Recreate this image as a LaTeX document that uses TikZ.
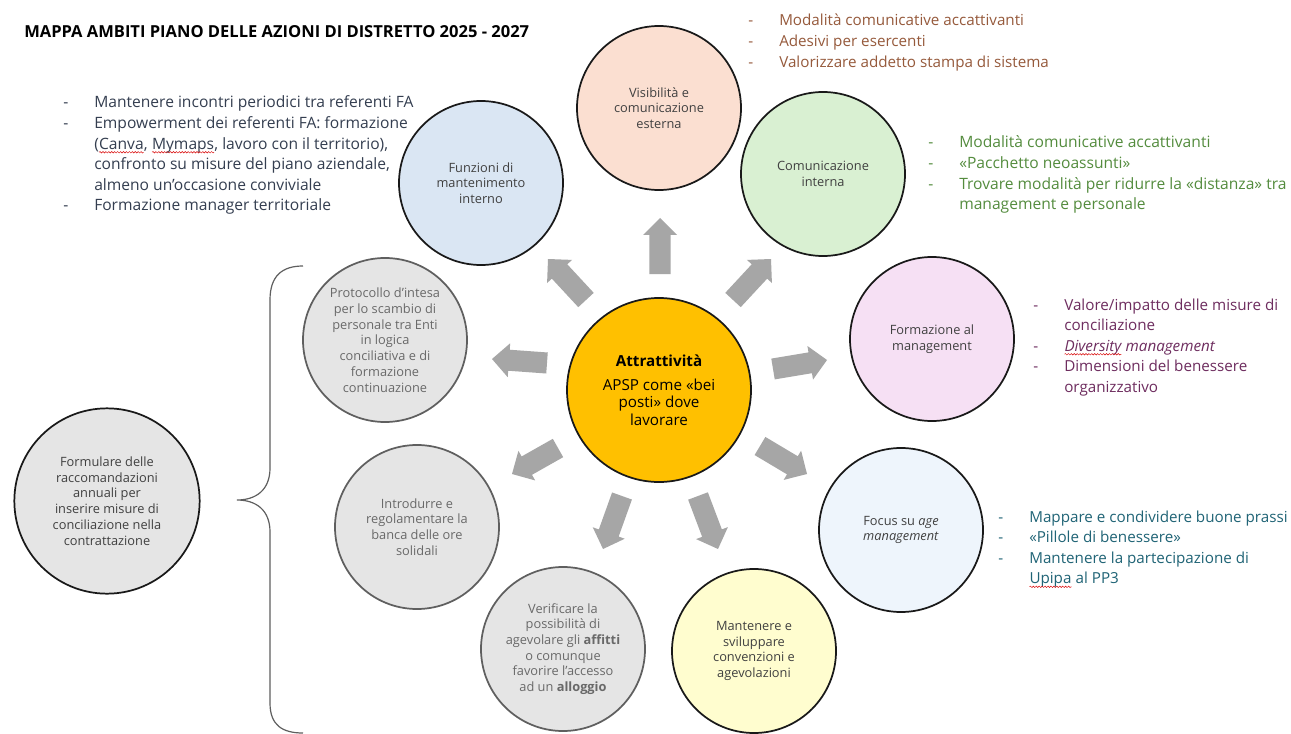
\documentclass[tikz,border=0pt]{standalone}
\usepackage{fontspec}
\setmainfont{Open Sans}
\usetikzlibrary{calc,decorations.pathmorphing}

% palette
\definecolor{ink}{RGB}{25,25,25}
\definecolor{circtext}{RGB}{64,64,64}
\definecolor{graytext}{RGB}{105,105,105}
\definecolor{graydraw}{RGB}{95,95,95}
\definecolor{softgray}{RGB}{229,229,229}
\definecolor{arrowgray}{RGB}{166,166,166}
\definecolor{amber}{RGB}{255,192,0}
\definecolor{peach}{RGB}{251,223,209}
\definecolor{skyfill}{RGB}{218,230,243}
\definecolor{mint}{RGB}{217,240,210}
\definecolor{lilac}{RGB}{246,224,244}
\definecolor{icefill}{RGB}{238,245,252}
\definecolor{cream}{RGB}{255,253,207}
\definecolor{brownc}{RGB}{150,90,60}
\definecolor{slatec}{RGB}{52,62,80}
\definecolor{greenc}{RGB}{84,140,62}
\definecolor{plumc}{RGB}{110,45,95}
\definecolor{tealc}{RGB}{32,100,118}

\newcommand\circfont{\fontsize{9.6}{11.8}\selectfont}
\newcommand\listfont{\fontsize{11.4}{15.4}\selectfont}
\newcommand\widelistfont{\fontsize{11.7}{15.4}\selectfont}
\newcommand\corefont{\fontsize{11.4}{13.2}\selectfont}
\newcommand\titlefont{\fontsize{12.4}{14}\selectfont\bfseries}

% red spell-check wave under a word
\newcommand\squig[1]{\tikz[baseline=(sqw.base)]{\node[inner sep=0pt,outer sep=0pt,anchor=base](sqw){#1};\draw[red!85!black,line width=0.35pt,decorate,decoration={snake,amplitude=0.55pt,segment length=2.2pt}]([yshift=-2.4pt]sqw.base west)--([yshift=-2.4pt]sqw.base east);}}

% grey block arrow from a tail coordinate to a tip coordinate
\newcommand\blockarrow[2]{%
  \coordinate (#1-neck) at ($(#2)!12.75pt!(#1)$);
  \fill[arrowgray] ($(#1)!7.9pt!90:(#2)$) -- ($(#1-neck)!7.9pt!90:(#2)$) -- ($(#1-neck)!12.75pt!90:(#2)$) -- (#2)
    -- ($(#1-neck)!12.75pt!-90:(#2)$) -- ($(#1-neck)!7.9pt!-90:(#2)$) -- ($(#1)!7.9pt!-90:(#2)$) -- cycle;}

\tikzset{
  bubble/.style={circle, draw=ink, line width=1.3pt, minimum size=123pt, inner sep=0pt,
    align=center, font=\circfont, text=circtext},
  graybubble/.style={bubble, fill=softgray, draw=graydraw, text=graytext},
  bullets/.style={anchor=base west, inner sep=0pt, font=\listfont},
  bracestyle/.style={draw=graydraw, line width=0.9pt},
}

\begin{document}
\begin{tikzpicture}[x=0.75pt, y=-0.75pt]
\fill[white] (0,0) rectangle (1291,734);
\useasboundingbox (0,0) rectangle (1291,734);

\node[anchor=west, inner sep=0pt, font=\titlefont, text=black] (title) at (24,32)
  {MAPPA AMBITI PIANO DELLE AZIONI DI DISTRETTO 2025 - 2027};

% central theme
\node[bubble, fill=amber, minimum size=138pt, font=\corefont, text=black] (core) at (659,390)
  {\textbf{Attrattività}\\[5pt] APSP come «bei\\posti» dove\\lavorare};

% surrounding areas
\node[bubble, fill=peach] (vis) at (659,108) {Visibilità e\\comunicazione\\esterna};
\node[bubble, fill=skyfill] (funz) at (481,183) {Funzioni di\\mantenimento\\interno};
\node[bubble, fill=mint] (com) at (823,174) {Comunicazione\\interna};
\node[bubble, fill=lilac] (form) at (932,339) {Formazione al\\management};
\node[bubble, fill=icefill] (age) at (901,530) {Focus su \textit{age}\\\textit{management}};
\node[bubble, fill=cream] (conv) at (754,651) {Mantenere e\\sviluppare\\convenzioni e\\agevolazioni};
\node[graybubble] (casa) at (563,649) {Verificare la\\possibilità di\\agevolare gli \textbf{affitti}\\o comunque\\favorire l’accesso\\ad un \textbf{alloggio}};
\node[graybubble] (banca) at (417,527) {Introdurre e\\regolamentare la\\banca delle ore\\solidali};
\node[graybubble] (proto) at (385,340) {Protocollo d’intesa\\per lo scambio di\\personale tra Enti\\in logica\\conciliativa e di\\formazione\\continuazione};
\node[bubble, fill=softgray, minimum size=139pt] (racc) at (107,501) {Formulare delle\\raccomandazioni\\annuali per\\inserire misure di\\conciliazione nella\\contrattazione};

% brace grouping the grey proposals
\coordinate (bTop) at (303,266);
\coordinate (bTip) at (237,500);
\coordinate (bBot) at (303,733);
\draw[bracestyle] (bTop) .. controls (282,266) and (270,276) .. (270,300) -- (270,468)
  .. controls (270,490) and (256,500) .. (bTip)
  .. controls (256,500) and (270,510) .. (270,532) -- (270,703)
  .. controls (270,725) and (282,733) .. (bBot);

% arrows radiating from the central theme
\coordinate (aUpT) at (660,274);  \coordinate (aUpH) at (660,218);
\coordinate (aULT) at (586,300);  \coordinate (aULH) at (548,259);
\coordinate (aURT) at (733,300);  \coordinate (aURH) at (771,259);
\coordinate (aRT) at (773,369);   \coordinate (aRH) at (827,360);
\coordinate (aLRT) at (760,446);  \coordinate (aLRH) at (807,474);
\coordinate (aDRT) at (698,496);  \coordinate (aDRH) at (718,549);
\coordinate (aDLT) at (622,496);  \coordinate (aDLH) at (603,549);
\coordinate (aLLT) at (558,448);  \coordinate (aLLH) at (512,474);
\coordinate (aLT) at (547,363);   \coordinate (aLH) at (492,359);
\blockarrow{aUpT}{aUpH}
\blockarrow{aULT}{aULH}
\blockarrow{aURT}{aURH}
\blockarrow{aRT}{aRH}
\blockarrow{aLRT}{aLRH}
\blockarrow{aDRT}{aDRH}
\blockarrow{aDLT}{aDLH}
\blockarrow{aLLT}{aLLH}
\blockarrow{aLT}{aLH}

% action lists
\node[bullets, text=brownc] (visList) at (748,26) {\begin{tabular}[t]{@{}p{23.25pt}@{}l@{}}
- & Modalità comunicative accattivanti\\
- & Adesivi per esercenti\\
- & Valorizzare addetto stampa di sistema
\end{tabular}};

\node[bullets, font=\widelistfont, text=slatec] (funzList) at (63,108) {\begin{tabular}[t]{@{}p{23.25pt}@{}l@{}}
- & Mantenere incontri periodici tra referenti FA\\
- & Empowerment dei referenti FA: formazione\\
  & (\squig{Canva}, \squig{Mymaps}, lavoro con il territorio),\\
  & confronto su misure del piano aziendale,\\
  & almeno un’occasione conviviale\\
- & Formazione manager territoriale
\end{tabular}};

\node[bullets, font=\widelistfont, text=greenc] (comList) at (928,148) {\begin{tabular}[t]{@{}p{23.25pt}@{}l@{}}
- & Modalità comunicative accattivanti\\
- & «Pacchetto neoassunti»\\
- & Trovare modalità per ridurre la «distanza» tra\\
  & management e personale
\end{tabular}};

\node[bullets, text=plumc] (formList) at (1033,310) {\begin{tabular}[t]{@{}p{23.25pt}@{}l@{}}
- & Valore/impatto delle misure di\\
  & conciliazione\\
- & \textit{\squig{Diversity} management}\\
- & Dimensioni del benessere\\
  & organizzativo
\end{tabular}};

\node[bullets, text=tealc] (ageList) at (998,522) {\begin{tabular}[t]{@{}p{23.25pt}@{}l@{}}
- & Mappare e condividere buone prassi\\
- & «Pillole di benessere»\\
- & Mantenere la partecipazione di\\
  & \squig{Upipa} al PP3
\end{tabular}};
\end{tikzpicture}
\end{document}
